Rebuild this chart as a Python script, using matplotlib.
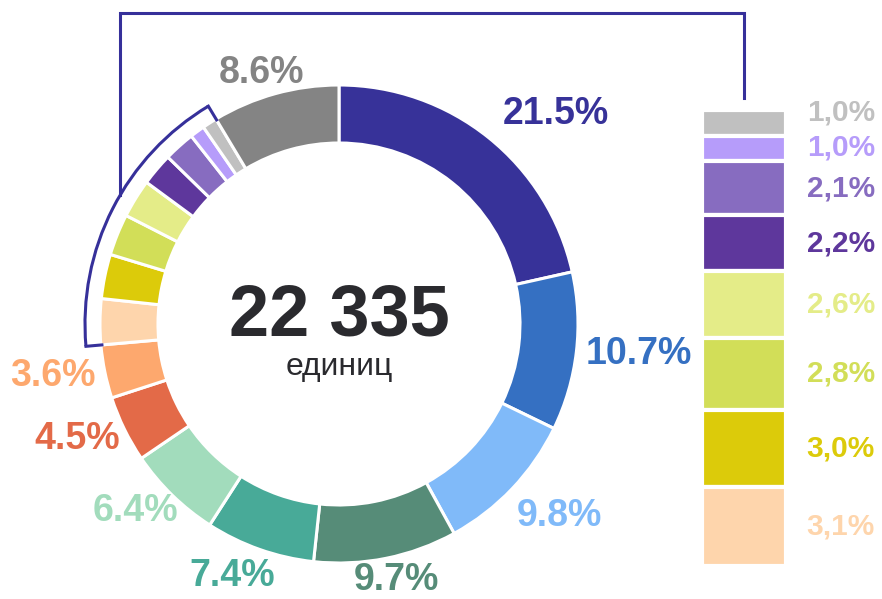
"""Кольцевая диаграмма долей с детализацией мелких сегментов."""

import matplotlib

matplotlib.use("Agg")

import matplotlib.pyplot as plt
import numpy as np
from matplotlib.patches import Arc

# --- данные ---
SHARES = [21.5, 10.7, 9.8, 9.7, 7.4, 6.4, 4.5, 3.6, 3.1, 3.0, 2.8, 2.6, 2.2, 2.1, 1.0, 1.0, 8.6]
COLORS = [
    "#373299", "#3570c2", "#80baf9", "#568c78", "#48aa98", "#a2dcbc",
    "#e36a48", "#fda86e", "#fed5ac", "#dccb0a", "#d2de58", "#e4ec88",
    "#5e379c", "#876cc0", "#b69cfa", "#c0c0c0", "#848484",
]
DETAIL = list(range(8, 16))  # мелкие сегменты, вынесенные в столбик справа
TOTAL_TEXT = "22 335"
UNIT_TEXT = "единиц"

# --- оформление ---
C_INK = "#2a2a2e"
C_LINE = "#36309a"
FONT = ["Liberation Sans", "DejaVu Sans"]
W, H = 882, 599
CX, CY = 339, 275          # центр кольца (пиксели, ось y вверх)
R_OUT, RING_W = 239, 58
R_BRACKET = 254
LINE_X, LINE_TOP = 120, 586
BAR_L, BAR_R, BAR_TOP, BAR_BOT = 702, 786, 489, 33
LABEL_GAP = 10
LABEL_NUDGE = [(28, 6), (0, 0), (9, -12), (0, 0), (-10, -6)] + [(0, 0)] * 12
BAR_LABEL_NUDGE = [10, 1, 0, 0, 0, 0, 0, 0]  # пиксели вверх, сверху вниз

fig = plt.figure(figsize=(W / 100, H / 100), dpi=100)
ax = fig.add_axes([0, 0, 1, 1])
ax.pie(
    SHARES,
    colors=COLORS,
    startangle=90,
    counterclock=False,
    radius=R_OUT,
    center=(CX, CY),
    wedgeprops=dict(width=RING_W, edgecolor="white", linewidth=2.2),
)
ax.set_xlim(0, W)
ax.set_ylim(0, H)
ax.set_aspect("equal")
ax.axis("off")

cum = np.concatenate([[0], np.cumsum(SHARES)])

# подписи вокруг кольца
renderer = fig.canvas.get_renderer()
for i, v in enumerate(SHARES):
    if i in DETAIL:
        continue
    mid = np.radians((cum[i] + v / 2) * 3.6)
    ux, uy = np.sin(mid), np.cos(mid)
    px, py = CX + (R_OUT + LABEL_GAP) * ux, CY + (R_OUT + LABEL_GAP) * uy
    t = ax.text(px, py, f"{v:.1f}%", ha="center", va="center", fontsize=27,
                fontweight="bold", color=COLORS[i], family=FONT)
    bb = t.get_window_extent(renderer)
    dx, dy = LABEL_NUDGE[i]
    t.set_position((px + ux * bb.width / 2 + dx, py + uy * bb.height * 0.33 + dy))

# центр
ax.text(CX, 263, TOTAL_TEXT, ha="center", va="baseline", fontsize=52,
        fontweight="bold", color=C_INK, family=FONT)
ax.text(CX, 224, UNIT_TEXT, ha="center", va="baseline", fontsize=23,
        color=C_INK, family=FONT)

# скобка вокруг мелких сегментов
a_start = cum[DETAIL[0]] * 3.6
a_end = cum[DETAIL[-1] + 1] * 3.6
ax.add_patch(Arc((CX, CY), 2 * R_BRACKET, 2 * R_BRACKET, theta1=90 - a_end,
                 theta2=90 - a_start, color=C_LINE, lw=2.2))
for a in (a_start, a_end):
    s, c = np.sin(np.radians(a)), np.cos(np.radians(a))
    ax.plot([CX + R_BRACKET * s, CX + (R_OUT - 1) * s],
            [CY + R_BRACKET * c, CY + (R_OUT - 1) * c], color=C_LINE, lw=2.2)

bar_cx = (BAR_L + BAR_R) / 2
y_arc = CY + np.sqrt(R_BRACKET ** 2 - (CX - LINE_X) ** 2)
ax.plot([LINE_X, LINE_X, bar_cx, bar_cx], [y_arc, LINE_TOP, LINE_TOP, BAR_TOP + 12],
        color=C_LINE, lw=2.2, solid_joinstyle="miter")

# столбик детализации
detail_vals = [SHARES[i] for i in DETAIL][::-1]
detail_cols = [COLORS[i] for i in DETAIL][::-1]
ax2 = fig.add_axes([BAR_L / W, BAR_BOT / H, (BAR_R - BAR_L) / W, (BAR_TOP - BAR_BOT) / H])
bottoms = np.concatenate([[0], np.cumsum(detail_vals)[:-1]])
ax2.bar(0, detail_vals, bottom=bottoms, width=1, color=detail_cols,
        edgecolor="white", linewidth=3)
ax2.set_xlim(-0.5, 0.5)
ax2.set_ylim(sum(detail_vals), 0)
ax2.axis("off")
px_per_unit = (BAR_TOP - BAR_BOT) / sum(detail_vals)
lab_x = (875 - BAR_L) / (BAR_R - BAR_L)
for v, b, col, nud in zip(detail_vals, bottoms, detail_cols, BAR_LABEL_NUDGE):
    ax2.text(lab_x, b + v / 2 - nud / px_per_unit, f"{v:.1f}%".replace(".", ","),
             transform=ax2.get_yaxis_transform(), ha="right", va="center",
             fontsize=21.5, fontweight="bold", color=col, family=FONT, clip_on=False)

fig.savefig("out.png", dpi=100, facecolor="white")
